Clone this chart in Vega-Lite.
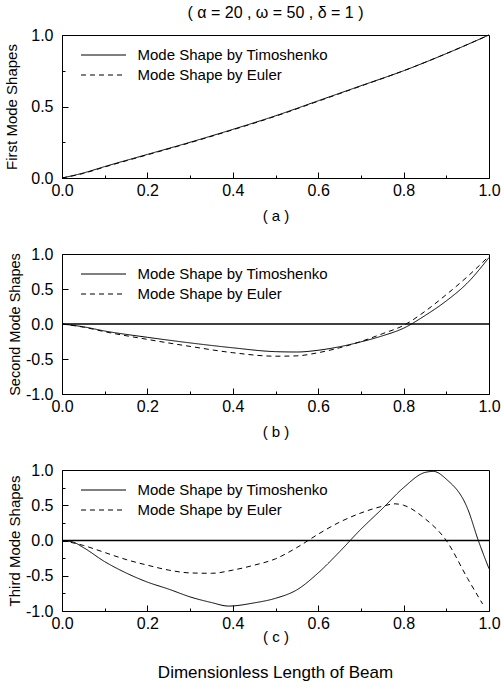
{
  "$schema": "https://vega.github.io/schema/vega-lite/v6.json",
  "background": "white",
  "padding": {"left": 4, "top": 4, "right": 0, "bottom": 5},
  "spacing": 21,
  "resolve": {"legend": {"strokeDash": "independent"}},
  "config": {
    "font": "Liberation Sans",
    "view": {"stroke": "black", "strokeWidth": 1},
    "axis": {
      "grid": false,
      "domainColor": "black",
      "domainWidth": 1,
      "tickColor": "black",
      "tickWidth": 1,
      "labelColor": "black",
      "titleColor": "black",
      "labelFont": "Liberation Sans",
      "titleFont": "Liberation Sans",
      "labelFontSize": 16,
      "titleFontSize": 15,
      "titleFontWeight": "normal",
      "labelFlush": false,
      "labelOverlap": false
    },
    "axisX": {"labelPadding": 10, "titlePadding": 7},
    "axisY": {"labelPadding": 15, "titlePadding": 3},
    "legend": {
      "orient": "none",
      "legendX": 18,
      "legendY": 12,
      "title": null,
      "padding": 0,
      "symbolType": "M-3,0H3",
      "symbolSize": 225,
      "symbolStrokeColor": "black",
      "symbolFillColor": "transparent",
      "symbolStrokeWidth": 1,
      "symbolOffset": 15.5,
      "labelOffset": 26,
      "labelLimit": 400,
      "labelFontSize": 15,
      "labelFont": "Liberation Sans",
      "labelColor": "black",
      "rowPadding": 4
    },
    "title": {"fontWeight": "normal", "color": "black", "font": "Liberation Sans"}
  },
  "datasets": {
    "a": [
      {"method": "Timoshenko", "x": 0, "y": 0},
      {"method": "Timoshenko", "x": 0.05, "y": 0.035},
      {"method": "Timoshenko", "x": 0.1, "y": 0.08},
      {"method": "Timoshenko", "x": 0.2, "y": 0.165},
      {"method": "Timoshenko", "x": 0.3, "y": 0.25},
      {"method": "Timoshenko", "x": 0.4, "y": 0.34},
      {"method": "Timoshenko", "x": 0.5, "y": 0.435},
      {"method": "Timoshenko", "x": 0.6, "y": 0.54},
      {"method": "Timoshenko", "x": 0.7, "y": 0.645},
      {"method": "Timoshenko", "x": 0.8, "y": 0.75},
      {"method": "Timoshenko", "x": 0.9, "y": 0.87},
      {"method": "Timoshenko", "x": 1.0, "y": 1.0},
      {"method": "Euler", "x": 0, "y": 0},
      {"method": "Euler", "x": 0.05, "y": 0.032},
      {"method": "Euler", "x": 0.1, "y": 0.077},
      {"method": "Euler", "x": 0.2, "y": 0.162},
      {"method": "Euler", "x": 0.3, "y": 0.247},
      {"method": "Euler", "x": 0.4, "y": 0.337},
      {"method": "Euler", "x": 0.5, "y": 0.432},
      {"method": "Euler", "x": 0.6, "y": 0.537},
      {"method": "Euler", "x": 0.7, "y": 0.643},
      {"method": "Euler", "x": 0.8, "y": 0.75},
      {"method": "Euler", "x": 0.9, "y": 0.87},
      {"method": "Euler", "x": 1.0, "y": 1.0}
    ],
    "b": [
      {"method": "Timoshenko", "x": 0, "y": 0},
      {"method": "Timoshenko", "x": 0.05, "y": -0.04},
      {"method": "Timoshenko", "x": 0.1, "y": -0.1},
      {"method": "Timoshenko", "x": 0.2, "y": -0.19},
      {"method": "Timoshenko", "x": 0.3, "y": -0.27},
      {"method": "Timoshenko", "x": 0.4, "y": -0.34},
      {"method": "Timoshenko", "x": 0.5, "y": -0.395},
      {"method": "Timoshenko", "x": 0.55, "y": -0.4},
      {"method": "Timoshenko", "x": 0.6, "y": -0.375},
      {"method": "Timoshenko", "x": 0.65, "y": -0.325},
      {"method": "Timoshenko", "x": 0.7, "y": -0.255},
      {"method": "Timoshenko", "x": 0.75, "y": -0.17},
      {"method": "Timoshenko", "x": 0.8, "y": -0.06},
      {"method": "Timoshenko", "x": 0.85, "y": 0.12},
      {"method": "Timoshenko", "x": 0.9, "y": 0.33},
      {"method": "Timoshenko", "x": 0.95, "y": 0.59},
      {"method": "Timoshenko", "x": 1.0, "y": 0.95},
      {"method": "Euler", "x": 0, "y": 0},
      {"method": "Euler", "x": 0.05, "y": -0.045},
      {"method": "Euler", "x": 0.1, "y": -0.11},
      {"method": "Euler", "x": 0.2, "y": -0.22},
      {"method": "Euler", "x": 0.3, "y": -0.32},
      {"method": "Euler", "x": 0.4, "y": -0.41},
      {"method": "Euler", "x": 0.5, "y": -0.46},
      {"method": "Euler", "x": 0.55, "y": -0.455},
      {"method": "Euler", "x": 0.6, "y": -0.41},
      {"method": "Euler", "x": 0.65, "y": -0.34},
      {"method": "Euler", "x": 0.7, "y": -0.25},
      {"method": "Euler", "x": 0.75, "y": -0.14},
      {"method": "Euler", "x": 0.8, "y": -0.02},
      {"method": "Euler", "x": 0.85, "y": 0.18},
      {"method": "Euler", "x": 0.9, "y": 0.42},
      {"method": "Euler", "x": 0.95, "y": 0.68},
      {"method": "Euler", "x": 1.0, "y": 0.97}
    ],
    "c": [
      {"method": "Timoshenko", "x": 0, "y": 0},
      {"method": "Timoshenko", "x": 0.025, "y": -0.02},
      {"method": "Timoshenko", "x": 0.05, "y": -0.1},
      {"method": "Timoshenko", "x": 0.1, "y": -0.3},
      {"method": "Timoshenko", "x": 0.15, "y": -0.46},
      {"method": "Timoshenko", "x": 0.2, "y": -0.59},
      {"method": "Timoshenko", "x": 0.25, "y": -0.69},
      {"method": "Timoshenko", "x": 0.3, "y": -0.8},
      {"method": "Timoshenko", "x": 0.35, "y": -0.88},
      {"method": "Timoshenko", "x": 0.39, "y": -0.93},
      {"method": "Timoshenko", "x": 0.45, "y": -0.885},
      {"method": "Timoshenko", "x": 0.5, "y": -0.82},
      {"method": "Timoshenko", "x": 0.55, "y": -0.7},
      {"method": "Timoshenko", "x": 0.6, "y": -0.46},
      {"method": "Timoshenko", "x": 0.65, "y": -0.16},
      {"method": "Timoshenko", "x": 0.7, "y": 0.16},
      {"method": "Timoshenko", "x": 0.75, "y": 0.45},
      {"method": "Timoshenko", "x": 0.8, "y": 0.75},
      {"method": "Timoshenko", "x": 0.85, "y": 0.965},
      {"method": "Timoshenko", "x": 0.87, "y": 0.98},
      {"method": "Timoshenko", "x": 0.9, "y": 0.87},
      {"method": "Timoshenko", "x": 0.95, "y": 0.45},
      {"method": "Timoshenko", "x": 0.975, "y": 0.0},
      {"method": "Timoshenko", "x": 1.0, "y": -0.4},
      {"method": "Euler", "x": 0, "y": 0},
      {"method": "Euler", "x": 0.05, "y": -0.07},
      {"method": "Euler", "x": 0.1, "y": -0.17},
      {"method": "Euler", "x": 0.15, "y": -0.27},
      {"method": "Euler", "x": 0.2, "y": -0.35},
      {"method": "Euler", "x": 0.25, "y": -0.42},
      {"method": "Euler", "x": 0.3, "y": -0.46},
      {"method": "Euler", "x": 0.35, "y": -0.465},
      {"method": "Euler", "x": 0.4, "y": -0.42},
      {"method": "Euler", "x": 0.45, "y": -0.35},
      {"method": "Euler", "x": 0.5, "y": -0.26},
      {"method": "Euler", "x": 0.55, "y": -0.1},
      {"method": "Euler", "x": 0.6, "y": 0.09},
      {"method": "Euler", "x": 0.65, "y": 0.26},
      {"method": "Euler", "x": 0.7, "y": 0.39},
      {"method": "Euler", "x": 0.75, "y": 0.485},
      {"method": "Euler", "x": 0.78, "y": 0.52},
      {"method": "Euler", "x": 0.8, "y": 0.5},
      {"method": "Euler", "x": 0.85, "y": 0.31},
      {"method": "Euler", "x": 0.9, "y": 0.0},
      {"method": "Euler", "x": 0.95, "y": -0.54},
      {"method": "Euler", "x": 0.985, "y": -0.9}
    ]
  },
  "vconcat": [
    {
      "title": {"text": "( α = 20 , ω = 50 , δ = 1 )", "fontSize": 16, "frame": "group", "anchor": "middle", "offset": 6},
      "width": 427,
      "height": 143,
      "data": {"name": "a"},
      "mark": {"type": "line", "interpolate": "monotone", "color": "black", "strokeWidth": 1},
      "encoding": {
        "x": {
          "field": "x", "type": "quantitative",
          "scale": {"domain": [0, 1], "nice": false},
          "axis": {
            "title": "( a )",
            "labelOverlap": false,
            "values": [0, 0.1, 0.2, 0.3, 0.4, 0.5, 0.6, 0.7, 0.8, 0.9, 1.0],
            "labelExpr": "round(datum.value*10)%2==0 ? format(datum.value,'.1f') : ''",
            "tickSize": {"condition": {"test": "round(datum.value*10)%2!=0", "value": -3}, "value": -6}
          }
        },
        "y": {
          "field": "y", "type": "quantitative",
          "scale": {"domain": [0, 1], "nice": false},
          "axis": {
            "title": "First Mode Shapes",
            "titlePadding": 11,
            "labelOverlap": false,
            "values": [0, 0.25, 0.5, 0.75, 1.0],
            "labelExpr": "round(datum.value*4)%2==0 ? (datum.value<0?'-':'') + format(abs(datum.value),'.1f') : ''",
            "tickSize": {"condition": {"test": "round(datum.value*4)%2!=0", "value": -3}, "value": -6}
          }
        },
        "strokeDash": {
          "field": "method", "type": "nominal",
          "scale": {"domain": ["Timoshenko", "Euler"], "range": [[1, 0], [5, 4]]},
          "legend": {"labelExpr": "'Mode Shape by ' + datum.label"}
        }
      }
    },
    {
      "width": 427,
      "height": 140,
      "layer": [
        {
          "data": {"name": "b"},
          "mark": {"type": "line", "interpolate": "monotone", "color": "black", "strokeWidth": 1},
          "encoding": {
            "x": {
              "field": "x", "type": "quantitative",
              "scale": {"domain": [0, 1], "nice": false},
              "axis": {
                "title": "( b )",
                "labelOverlap": false,
                "values": [0, 0.1, 0.2, 0.3, 0.4, 0.5, 0.6, 0.7, 0.8, 0.9, 1.0],
                "labelExpr": "round(datum.value*10)%2==0 ? format(datum.value,'.1f') : ''",
                "tickSize": {"condition": {"test": "round(datum.value*10)%2!=0", "value": -3}, "value": -6}
              }
            },
            "y": {
              "field": "y", "type": "quantitative",
              "scale": {"domain": [-1, 1], "nice": false},
              "axis": {
                "title": "Second Mode Shapes",
                "titleFontSize": 14.5,
                "labelOverlap": false,
                "tickSize": -6,
                "values": [-1, -0.5, 0, 0.5, 1.0],
                "labelExpr": "(datum.value<0?'-':'') + format(abs(datum.value),'.1f')"
              }
            },
            "strokeDash": {
              "field": "method", "type": "nominal",
              "scale": {"domain": ["Timoshenko", "Euler"], "range": [[1, 0], [5, 4]]},
              "legend": {"labelExpr": "'Mode Shape by ' + datum.label"}
            }
          }
        },
        {
          "data": {"values": [{"ref": 0}]},
          "mark": {"type": "rule", "color": "black", "strokeWidth": 1.5},
          "encoding": {
            "y": {
              "field": "ref", "type": "quantitative",
              "axis": {
                "title": "Second Mode Shapes",
                "titleFontSize": 14.5,
                "labelOverlap": false,
                "tickSize": -6,
                "values": [-1, -0.5, 0, 0.5, 1.0],
                "labelExpr": "(datum.value<0?'-':'') + format(abs(datum.value),'.1f')"
              }
            }
          }
        }
      ]
    },
    {
      "title": {"text": "Dimensionless Length of Beam", "orient": "bottom", "fontSize": 17, "frame": "group", "anchor": "middle", "offset": 21},
      "width": 427,
      "height": 141,
      "layer": [
        {
          "data": {"name": "c"},
          "mark": {"type": "line", "interpolate": "monotone", "color": "black", "strokeWidth": 1},
          "encoding": {
            "x": {
              "field": "x", "type": "quantitative",
              "scale": {"domain": [0, 1], "nice": false},
              "axis": {
                "title": "( c )",
                "titlePadding": -5,
                "labelOverlap": false,
                "values": [0, 0.1, 0.2, 0.3, 0.4, 0.5, 0.6, 0.7, 0.8, 0.9, 1.0],
                "labelExpr": "round(datum.value*10)%2==0 ? format(datum.value,'.1f') : ''",
                "tickSize": {"condition": {"test": "round(datum.value*10)%2!=0", "value": -3}, "value": -6}
              }
            },
            "y": {
              "field": "y", "type": "quantitative",
              "scale": {"domain": [-1, 1], "nice": false},
              "axis": {
                "title": "Third Mode Shapes",
                "labelOverlap": false,
                "tickCount": 9,
                "values": [-1, -0.75, -0.5, -0.25, 0, 0.25, 0.5, 0.75, 1.0],
                "labelExpr": "round(datum.value*4)%2==0 ? (datum.value<0?'-':'') + format(abs(datum.value),'.1f') : ''",
                "tickSize": {"condition": {"test": "round(datum.value*4)%2!=0", "value": -3}, "value": -6}
              }
            },
            "strokeDash": {
              "field": "method", "type": "nominal",
              "scale": {"domain": ["Timoshenko", "Euler"], "range": [[1, 0], [5, 4]]},
              "legend": {"labelExpr": "'Mode Shape by ' + datum.label"}
            }
          }
        },
        {
          "data": {"values": [{"ref": 0}]},
          "mark": {"type": "rule", "color": "black", "strokeWidth": 1.5},
          "encoding": {
            "y": {
              "field": "ref", "type": "quantitative",
              "axis": {
                "title": "Third Mode Shapes",
                "labelOverlap": false,
                "tickCount": 9,
                "values": [-1, -0.75, -0.5, -0.25, 0, 0.25, 0.5, 0.75, 1.0],
                "labelExpr": "round(datum.value*4)%2==0 ? (datum.value<0?'-':'') + format(abs(datum.value),'.1f') : ''",
                "tickSize": {"condition": {"test": "round(datum.value*4)%2!=0", "value": -3}, "value": -6}
              }
            }
          }
        }
      ]
    }
  ]
}
